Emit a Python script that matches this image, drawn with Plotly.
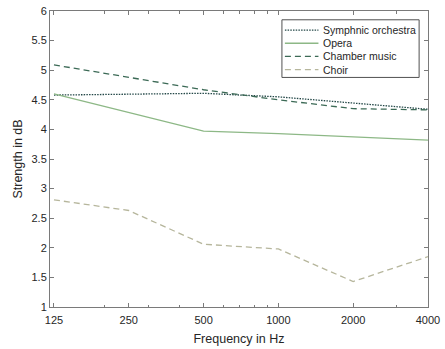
import math
import plotly.graph_objects as go

freqs = [125, 250, 500, 1000, 2000, 4000]
tick_labels = ["125", "250", "500", "1000", "2000", "4000"]
symphonic = [4.58, 4.59, 4.61, 4.55, 4.45, 4.34]
opera = [4.60, 4.29, 3.97, 3.93, 3.87, 3.82]
chamber = [5.09, 4.88, 4.67, 4.50, 4.35, 4.33]
choir = [2.81, 2.63, 2.06, 1.98, 1.43, 1.85]
minor_ticks = [200, 300, 400, 600, 700, 800, 900, 3000]
y_ticks = [1, 1.5, 2, 2.5, 3, 3.5, 4, 4.5, 5, 5.5, 6]

series = [
    ("Symphnic orchestra", symphonic, "#244848", "1.5px,1.2px"),
    ("Opera", opera, "#8db886", "solid"),
    ("Chamber music", chamber, "#3c6a56", "6px,4px"),
    ("Choir", choir, "#b6b69c", "6px,4px"),
]

W, H = 445, 349
L, R, T, B = 50, 12, 5, 41
pw, ph = W - L - R, H - T - B


def px(x):
    return (x - L) / pw


def py(y):
    return 1 - (y - T) / ph


fig = go.Figure()
for name, vals, color, dash in series:
    fig.add_trace(go.Scatter(x=freqs, y=vals, mode="lines", name=name,
                             line=dict(color=color, width=1.3, dash=dash)))

fig.add_trace(go.Scatter(x=[125, 4000], y=[1, 1], xaxis="x2", mode="lines",
                         line=dict(width=0), showlegend=False, hoverinfo="skip"))

shapes = [dict(type="rect", xref="paper", yref="paper",
               x0=px(285), x1=px(424), y0=py(73), y1=py(14),
               line=dict(color="#505050", width=1), fillcolor="white", layer="above")]
annotations = []
row_y = [24.5, 38, 51.5, 65]
for (name, vals, color, dash), ry in zip(series, row_y):
    shapes.append(dict(type="line", xref="paper", yref="paper",
                       x0=px(288), x1=px(322), y0=py(ry), y1=py(ry),
                       line=dict(color=color, width=1.3, dash=dash), layer="above"))
    annotations.append(dict(text=name, xref="paper", yref="paper", x=px(325), y=py(ry),
                            xanchor="left", yanchor="middle", showarrow=False,
                            font=dict(size=10.5, color="#262626")))

xr = [math.log10(120.5), math.log10(4000.5)]
axcol = "#7a7a7a"
fig.update_layout(
    width=W, height=H,
    margin=dict(l=L, r=R, t=T, b=B),
    paper_bgcolor="white", plot_bgcolor="white",
    font=dict(family="Liberation Sans, Arial, sans-serif", size=11, color="#262626"),
    xaxis=dict(type="log", range=xr, tickvals=freqs, ticktext=tick_labels,
               ticks="inside", ticklen=4, tickcolor=axcol, showline=True,
               linecolor=axcol, linewidth=1, mirror="ticks", showgrid=False,
               zeroline=False, ticklabeloverflow="allow", ticklabelstandoff=3,
               title=dict(text="Frequency in Hz", font=dict(size=12.5), standoff=9),
               tickfont=dict(size=11)),
    xaxis2=dict(type="log", range=xr, overlaying="x", tickvals=minor_ticks,
                showticklabels=False, ticks="inside", ticklen=2.5, tickcolor=axcol,
                showline=False, mirror="ticks", showgrid=False, zeroline=False),
    yaxis=dict(range=[0.9995, 6.0005], tickvals=y_ticks,
               ticks="inside", ticklen=4, tickcolor=axcol,
               showline=True, linecolor=axcol, linewidth=1, mirror="ticks",
               showgrid=False, zeroline=False, ticklabeloverflow="allow",
               title=dict(text="Strength in dB", font=dict(size=12.5), standoff=6),
               tickfont=dict(size=11)),
    shapes=shapes,
    annotations=annotations,
    showlegend=False,
)
fig.write_html("out.html", config={"displayModeBar": False},
               post_script="document.body.style.margin='0';document.body.style.overflow='hidden';")
